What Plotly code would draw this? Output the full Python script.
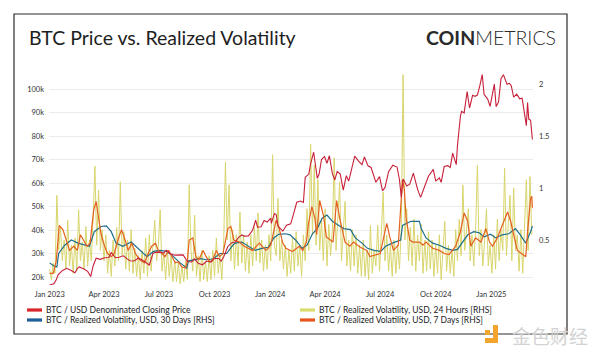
import plotly.graph_objects as go
import pandas as pd

# ---------------- data ----------------
price_dates = [
    "2023-01-01", "2023-01-08", "2023-01-12", "2023-01-15", "2023-01-22", "2023-01-29", "2023-02-05",
    "2023-02-12", "2023-02-16", "2023-02-19", "2023-02-26", "2023-03-05", "2023-03-10", "2023-03-14",
    "2023-03-19", "2023-03-26", "2023-04-02", "2023-04-09", "2023-04-13", "2023-04-20", "2023-04-26",
    "2023-05-03", "2023-05-10", "2023-05-14", "2023-05-21", "2023-05-28", "2023-06-04", "2023-06-11",
    "2023-06-15", "2023-06-21", "2023-06-25", "2023-07-02", "2023-07-09", "2023-07-13", "2023-07-20",
    "2023-07-27", "2023-08-03", "2023-08-10", "2023-08-17", "2023-08-24", "2023-08-29", "2023-09-04",
    "2023-09-11", "2023-09-18", "2023-09-25", "2023-10-01", "2023-10-08", "2023-10-12", "2023-10-16",
    "2023-10-23", "2023-10-29", "2023-11-05", "2023-11-09", "2023-11-15", "2023-11-19", "2023-11-26",
    "2023-12-03", "2023-12-08", "2023-12-11", "2023-12-17", "2023-12-22", "2023-12-27", "2024-01-02",
    "2024-01-03", "2024-01-08", "2024-01-11", "2024-01-14", "2024-01-22", "2024-01-28", "2024-02-04",
    "2024-02-09", "2024-02-14", "2024-02-20", "2024-02-25", "2024-02-28", "2024-03-05", "2024-03-08",
    "2024-03-13", "2024-03-19", "2024-03-22", "2024-03-26", "2024-03-31", "2024-04-04", "2024-04-08",
    "2024-04-13", "2024-04-17", "2024-04-21", "2024-04-26", "2024-05-01", "2024-05-06", "2024-05-10",
    "2024-05-15", "2024-05-20", "2024-05-26", "2024-06-01", "2024-06-05", "2024-06-11", "2024-06-16",
    "2024-06-24", "2024-06-30", "2024-07-05", "2024-07-09", "2024-07-15", "2024-07-22", "2024-07-29",
    "2024-08-02", "2024-08-05", "2024-08-08", "2024-08-14", "2024-08-19", "2024-08-25", "2024-09-01",
    "2024-09-06", "2024-09-12", "2024-09-19", "2024-09-27", "2024-10-01", "2024-10-07", "2024-10-10",
    "2024-10-15", "2024-10-21", "2024-10-25", "2024-10-29", "2024-11-04", "2024-11-06", "2024-11-11",
    "2024-11-13", "2024-11-17", "2024-11-22", "2024-11-26", "2024-12-01", "2024-12-05", "2024-12-09",
    "2024-12-13", "2024-12-17", "2024-12-20", "2024-12-26", "2024-12-30", "2025-01-06", "2025-01-09",
    "2025-01-13", "2025-01-17", "2025-01-21", "2025-01-27", "2025-01-31", "2025-02-03", "2025-02-07",
    "2025-02-12", "2025-02-17", "2025-02-21", "2025-02-25", "2025-02-28", "2025-03-02", "2025-03-04",
    "2025-03-07", "2025-03-10",
]
price_k = [
    16.6, 17.1, 18.8, 20.9, 22.7, 23.7, 22.9,
    21.8, 23.6, 24.3, 23.5, 22.4, 20.2, 24.7,
    28.0, 27.5, 28.2, 28.3, 30.4, 28.2, 28.4,
    29.0, 27.6, 26.9, 26.8, 28.1, 27.1, 25.9,
    25.1, 30.0, 30.5, 30.6, 30.2, 31.4, 29.9,
    29.3, 29.2, 29.4, 26.6, 26.4, 27.7, 25.8,
    25.2, 26.8, 26.3, 27.9, 27.9, 26.8, 28.5,
    33.0, 34.5, 35.0, 36.7, 37.9, 37.4, 37.5,
    39.9, 44.2, 41.2, 41.4, 44.0, 43.4, 45.0,
    42.8, 47.0, 46.6, 41.7, 39.5, 42.0, 42.6,
    47.1, 51.8, 52.3, 51.7, 62.4, 63.8, 68.3,
    73.1, 62.0, 63.8, 70.0, 71.3, 68.4, 71.6,
    64.0, 61.3, 64.9, 63.8, 57.0, 63.1, 60.8,
    66.2, 71.4, 69.4, 67.8, 71.1, 67.3, 66.6,
    60.3, 62.7, 56.7, 58.0, 64.8, 67.6, 66.8,
    61.4, 54.0, 61.7, 58.7, 59.5, 64.2, 57.3,
    53.9, 58.1, 62.9, 65.8, 60.8, 62.2, 60.3,
    67.0, 67.4, 66.6, 72.7, 67.8, 75.9, 88.7,
    90.5, 89.8, 98.9, 91.9, 97.3, 96.9, 97.4,
    101.4, 106.1, 97.7, 95.7, 92.6, 102.1, 92.5,
    94.5, 104.4, 106.1, 102.0, 102.4, 101.4, 96.5,
    97.8, 95.8, 96.1, 88.7, 84.4, 94.2, 87.2,
    86.7, 78.5,
]

vol30_dates = [
    "2023-01-01", "2023-01-08", "2023-01-13", "2023-01-16", "2023-01-26", "2023-02-06", "2023-02-17",
    "2023-02-28", "2023-03-08", "2023-03-16", "2023-03-27", "2023-04-05", "2023-04-13", "2023-04-21",
    "2023-05-02", "2023-05-16", "2023-05-27", "2023-06-07", "2023-06-11", "2023-06-22", "2023-07-03",
    "2023-07-14", "2023-07-25", "2023-08-05", "2023-08-16", "2023-08-19", "2023-08-27", "2023-09-07",
    "2023-09-18", "2023-09-29", "2023-10-10", "2023-10-21", "2023-10-30", "2023-11-04", "2023-11-15",
    "2023-11-26", "2023-12-07", "2023-12-18", "2023-12-29", "2024-01-07", "2024-01-15", "2024-01-26",
    "2024-02-03", "2024-02-12", "2024-02-23", "2024-03-02", "2024-03-11", "2024-03-19", "2024-03-27",
    "2024-04-04", "2024-04-13", "2024-04-21", "2024-05-02", "2024-05-13", "2024-05-21", "2024-06-01",
    "2024-06-10", "2024-06-21", "2024-07-02", "2024-07-10", "2024-07-21", "2024-08-04", "2024-08-07",
    "2024-08-21", "2024-09-04", "2024-09-07", "2024-09-15", "2024-09-26", "2024-10-07", "2024-10-18",
    "2024-10-29", "2024-11-06", "2024-11-14", "2024-11-23", "2024-12-03", "2024-12-12", "2024-12-20",
    "2024-12-31", "2025-01-08", "2025-01-19", "2025-01-30", "2025-02-10", "2025-02-18", "2025-02-27",
    "2025-03-07", "2025-03-10",
]
vol30 = [
    0.28, 0.25, 0.24, 0.37, 0.45, 0.50, 0.47,
    0.45, 0.44, 0.58, 0.63, 0.635, 0.58, 0.47,
    0.44, 0.48, 0.42, 0.36, 0.34, 0.39, 0.40,
    0.39, 0.34, 0.28, 0.23, 0.30, 0.31, 0.32,
    0.31, 0.32, 0.37, 0.37, 0.44, 0.47, 0.48,
    0.44, 0.40, 0.42, 0.43, 0.52, 0.555, 0.56,
    0.55, 0.50, 0.42, 0.45, 0.56, 0.61, 0.71,
    0.74, 0.68, 0.65, 0.61, 0.60, 0.52, 0.47,
    0.42, 0.40, 0.39, 0.44, 0.47, 0.50, 0.64,
    0.68, 0.68, 0.61, 0.52, 0.47, 0.45, 0.42,
    0.40, 0.41, 0.48, 0.55, 0.58, 0.57, 0.53,
    0.555, 0.52, 0.55, 0.56, 0.61, 0.55, 0.47,
    0.58, 0.635,
]

vol7_dates = [
    "2023-01-01", "2023-01-07", "2023-01-12", "2023-01-17", "2023-01-23", "2023-01-28", "2023-02-03",
    "2023-02-10", "2023-02-16", "2023-02-21", "2023-02-26", "2023-03-04", "2023-03-09", "2023-03-15",
    "2023-03-19", "2023-03-23", "2023-03-27", "2023-04-02", "2023-04-07", "2023-04-13", "2023-04-18",
    "2023-04-24", "2023-04-30", "2023-05-06", "2023-05-11", "2023-05-17", "2023-05-23", "2023-05-30",
    "2023-06-07", "2023-06-13", "2023-06-19", "2023-06-25", "2023-06-30", "2023-07-06", "2023-07-11",
    "2023-07-17", "2023-07-22", "2023-07-28", "2023-08-02", "2023-08-08", "2023-08-14", "2023-08-17",
    "2023-08-20", "2023-08-26", "2023-08-31", "2023-09-05", "2023-09-12", "2023-09-17", "2023-09-23",
    "2023-09-28", "2023-10-04", "2023-10-09", "2023-10-15", "2023-10-19", "2023-10-23", "2023-10-28",
    "2023-11-02", "2023-11-11", "2023-11-19", "2023-12-03", "2023-12-14", "2023-12-25", "2024-01-02",
    "2024-01-11", "2024-01-16", "2024-01-22", "2024-01-27", "2024-02-07", "2024-02-18", "2024-02-24",
    "2024-03-01", "2024-03-04", "2024-03-10", "2024-03-15", "2024-03-18", "2024-03-23", "2024-03-29",
    "2024-04-03", "2024-04-14", "2024-04-20", "2024-04-25", "2024-05-04", "2024-05-12", "2024-05-18",
    "2024-05-29", "2024-06-09", "2024-06-14", "2024-07-01", "2024-07-06", "2024-07-12", "2024-07-17",
    "2024-07-23", "2024-07-31", "2024-08-07", "2024-08-10", "2024-08-13", "2024-08-19", "2024-08-24",
    "2024-09-04", "2024-09-10", "2024-09-15", "2024-09-26", "2024-10-07", "2024-10-15", "2024-10-23",
    "2024-11-03", "2024-11-11", "2024-11-17", "2024-11-23", "2024-11-28", "2024-12-06", "2024-12-15",
    "2024-12-23", "2024-12-29", "2025-01-03", "2025-01-11", "2025-01-19", "2025-01-28", "2025-02-02",
    "2025-02-08", "2025-02-13", "2025-02-22", "2025-02-27", "2025-03-02", "2025-03-07", "2025-03-09",
    "2025-03-10",
]
vol7 = [
    0.18, 0.18, 0.30, 0.64, 0.60, 0.50, 0.40,
    0.44, 0.40, 0.55, 0.50, 0.44, 0.47, 0.79,
    0.87, 0.72, 0.56, 0.44, 0.37, 0.34, 0.37,
    0.50, 0.60, 0.50, 0.40, 0.47, 0.37, 0.31,
    0.28, 0.37, 0.44, 0.47, 0.40, 0.37, 0.34,
    0.40, 0.34, 0.28, 0.29, 0.24, 0.23, 0.30,
    0.50, 0.52, 0.34, 0.31, 0.40, 0.34, 0.29,
    0.31, 0.40, 0.34, 0.37, 0.50, 0.61, 0.63,
    0.50, 0.48, 0.44, 0.40, 0.47, 0.40, 0.45,
    0.69, 0.61, 0.47, 0.42, 0.39, 0.44, 0.40,
    0.48, 0.64, 0.82, 0.71, 0.55, 0.88, 0.74,
    0.53, 0.48, 0.88, 0.71, 0.48, 0.44, 0.48,
    0.43, 0.40, 0.34, 0.37, 0.50, 0.66, 0.53,
    0.40, 0.45, 1.08, 0.99, 0.71, 0.50, 0.48,
    0.48, 0.45, 0.48, 0.42, 0.40, 0.37, 0.36,
    0.44, 0.58, 0.76, 0.68, 0.44, 0.52, 0.48,
    0.61, 0.48, 0.44, 0.52, 0.64, 0.77, 0.68,
    0.52, 0.40, 0.36, 0.34, 0.58, 0.90, 0.92,
    0.81,
]

# 24-hour realized volatility, one reading every 3 days from 2023-01-01
vol24_start = "2023-01-01"
vol24 = [
    0.22, 0.12, 0.28, 0.18, 0.93, 0.40, 0.62, 0.30, 0.50, 0.22,
    0.69, 0.25, 0.45, 0.18, 0.52, 0.20, 0.79, 0.30, 0.48, 0.22,
    0.63, 0.25, 0.50, 0.30, 0.70, 1.21, 0.45, 0.98, 0.40, 0.60,
    0.30, 0.55, 0.18, 0.40, 0.15, 0.50, 0.25, 0.62, 0.30, 1.06,
    0.35, 0.58, 0.22, 0.50, 0.20, 0.60, 0.18, 0.42, 0.15, 0.35,
    0.12, 0.40, 0.18, 0.52, 0.15, 0.55, 0.20, 0.45, 0.69, 0.30,
    0.45, 0.79, 0.20, 0.38, 0.12, 0.40, 0.15, 0.35, 0.10, 0.30,
    0.10, 0.28, 0.08, 0.25, 0.10, 0.30, 0.12, 1.03, 0.40, 0.20,
    0.74, 0.15, 0.35, 0.10, 0.40, 0.12, 0.30, 0.10, 0.35, 0.12,
    0.40, 0.15, 0.52, 0.18, 0.35, 0.12, 0.45, 1.25, 0.50, 1.03,
    0.30, 0.60, 0.22, 0.55, 0.25, 0.77, 0.28, 0.55, 0.20, 0.48,
    0.18, 0.55, 0.25, 0.62, 0.30, 0.76, 0.28, 0.50, 0.20, 0.45,
    0.22, 0.55, 0.30, 1.32, 0.45, 0.35, 0.90, 0.30, 0.50, 0.22,
    0.45, 0.15, 0.40, 0.18, 0.52, 0.20, 0.58, 0.25, 0.45, 0.15,
    0.55, 0.30, 0.80, 0.40, 1.42, 0.55, 1.22, 0.45, 1.08, 0.40,
    0.70, 0.30, 0.80, 0.25, 0.65, 0.35, 0.60, 1.29, 0.40, 0.70,
    1.06, 0.30, 0.60, 0.87, 0.25, 0.50, 0.20, 0.60, 0.25, 0.55,
    0.18, 0.45, 0.15, 0.50, 0.15, 0.40, 0.12, 0.64, 0.18, 0.40,
    0.25, 0.64, 0.20, 0.55, 0.96, 0.30, 0.55, 0.20, 0.45, 0.15,
    0.50, 0.18, 0.45, 0.22, 0.60, 2.09, 0.50, 0.80, 0.30, 0.62,
    0.25, 0.70, 0.20, 0.55, 0.30, 0.65, 0.18, 0.50, 0.20, 0.58,
    0.22, 0.50, 0.15, 0.45, 0.18, 0.55, 0.12, 0.40, 0.68, 0.20,
    0.45, 0.18, 0.40, 0.15, 0.60, 0.30, 0.70, 0.35, 1.03, 0.40,
    0.60, 0.80, 0.30, 0.55, 0.25, 0.60, 1.22, 0.35, 0.60, 0.25,
    0.50, 0.80, 0.25, 0.45, 0.18, 0.55, 0.22, 0.70, 0.30, 0.60,
    0.40, 1.19, 0.35, 0.65, 0.93, 0.30, 1.00, 0.40, 0.55, 0.20,
    0.60, 0.18, 0.60, 1.08, 0.40, 1.11, 0.55,
]
vol24_dates = pd.date_range(vol24_start, periods=len(vol24), freq="3D")

price_ticks = [20, 30, 40, 50, 60, 70, 80, 90, 100]
price_tick_text = ["20k", "30k", "40k", "50k", "60k", "70k", "80k", "90k", "100k"]
vol_ticks = [0.5, 1, 1.5, 2]
vol_tick_text = ["0.5", "1", "1.5", "2"]

series_names = [
    "BTC / USD Denominated Closing Price",
    "BTC / Realized Volatility, USD, 24 Hours [RHS]",
    "BTC / Realized Volatility, USD, 30 Days [RHS]",
    "BTC / Realized Volatility, USD, 7 Days [RHS]",
]
C_PRICE = "#c8203a"
C_V24 = "#d8d56c"
C_V30 = "#1f6e8a"
C_V7 = "#e4601e"
swatch_colors = ["#d8262c", "#d9dc6c", "#1f5f99", "#e8541c"]

# ---------------- layout geometry ----------------
# positions below are screen pixels of the 600x356 window; the html body adds an 8px margin
OFF = 8
W, H = 600 - OFF, 356 - OFF
L, R, T, B = 49, 533, 68, 285   # plot area in screen pixels


def px(x):
    return (x - L) / (R - L)


def py(y):
    return (B - y) / (B - T)


FONT = "Lato, 'Open Sans', sans-serif"

fig = go.Figure()
fig.add_trace(go.Scatter(x=vol24_dates, y=vol24, mode="lines", name=series_names[1],
                         line=dict(color=C_V24, width=1), yaxis="y", showlegend=False))
fig.add_trace(go.Scatter(x=pd.to_datetime(vol30_dates), y=vol30, mode="lines", name=series_names[2],
                         line=dict(color=C_V30, width=1.2), yaxis="y", showlegend=False))
fig.add_trace(go.Scatter(x=pd.to_datetime(vol7_dates), y=vol7, mode="lines", name=series_names[3],
                         line=dict(color=C_V7, width=1.2), yaxis="y", showlegend=False))
fig.add_trace(go.Scatter(x=pd.to_datetime(price_dates), y=price_k, mode="lines", name=series_names[0],
                         line=dict(color=C_PRICE, width=1.1), yaxis="y2", showlegend=False))

tick_font = dict(family=FONT, size=7.5, color="#333333")

fig.update_layout(
    width=W, height=H,
    margin=dict(l=L - OFF, r=W - (R - OFF), t=T - OFF, b=H - (B - OFF), pad=0),
    paper_bgcolor="white", plot_bgcolor="white",
    font=dict(family=FONT, color="#222222"),
    xaxis=dict(type="date", range=["2022-12-31", "2025-03-11"],
               tickvals=pd.date_range("2023-01-01", "2025-01-01", freq="3MS"),
               tickformat="%b %Y", showgrid=False, zeroline=False, showline=False,
               ticks="", tickfont=tick_font, ticklabelstandoff=3, automargin=False),
    yaxis=dict(side="right", range=[0.0673, 2.1538], tickvals=vol_ticks, ticktext=vol_tick_text,
               showgrid=False, zeroline=False, showline=False, ticks="", tickfont=tick_font,
               ticklabelstandoff=5, automargin=False),
    yaxis2=dict(side="left", overlaying="y", range=[16.596, 108.936], tickvals=price_ticks,
                ticktext=price_tick_text, showgrid=True, gridcolor="#ebebeb", gridwidth=1,
                zeroline=False, showline=False, ticks="", tickfont=tick_font,
                ticklabelstandoff=4, automargin=False),
    showlegend=False,
)

shapes = []
annotations = []

# outer frame
shapes.append(dict(type="rect", xref="paper", yref="paper", x0=px(14), x1=px(567), y0=py(334), y1=py(14),
                   line=dict(color="#2b2b2b", width=1.2), fillcolor="rgba(0,0,0,0)", layer="below"))

# title and logo
annotations.append(dict(text="BTC Price vs. Realized Volatility", xref="paper", yref="paper",
                        x=px(27), y=py(37), xanchor="left", yanchor="middle", showarrow=False,
                        font=dict(family=FONT, size=19.5, color="#1e1e1e")))
annotations.append(dict(text="<b>COIN</b><span style='font-weight:300'>METRICS</span>",
                        xref="paper", yref="paper", x=px(558), y=py(37),
                        xanchor="right", yanchor="middle", showarrow=False,
                        font=dict(family=FONT, size=19.5, color="#2a2a2a")))

# legend (two columns)
legend_pos = [(27, 310), (300, 310), (27, 320), (300, 320)]
for name, col, (lx, ly) in zip(series_names, swatch_colors, legend_pos):
    shapes.append(dict(type="rect", xref="paper", yref="paper", x0=px(lx), x1=px(lx + 15),
                       y0=py(ly + 1.6), y1=py(ly - 1.6), line=dict(width=0), fillcolor=col))
    annotations.append(dict(text=name, xref="paper", yref="paper", x=px(lx + 17), y=py(ly),
                            xanchor="left", yanchor="middle", showarrow=False,
                            font=dict(family=FONT, size=8.5, color="#222222")))

# watermark
wm = "#f2a52a"
shapes.append(dict(type="rect", xref="paper", yref="paper", x0=px(493), x1=px(498), y0=py(343), y1=py(325),
                   line=dict(width=0), fillcolor=wm))
shapes.append(dict(type="rect", xref="paper", yref="paper", x0=px(485), x1=px(498), y0=py(343), y1=py(338),
                   line=dict(width=0), fillcolor=wm))
shapes.append(dict(type="rect", xref="paper", yref="paper", x0=px(485), x1=px(490), y0=py(335), y1=py(330),
                   line=dict(width=0), fillcolor=wm))
annotations.append(dict(text="金色财经", xref="paper", yref="paper", x=px(510), y=py(335),
                        xanchor="left", yanchor="middle", showarrow=False,
                        font=dict(family="Noto Sans CJK SC", size=19, color="#d2d2d2")))

fig.update_layout(shapes=shapes, annotations=annotations)

fig.write_html("out.html")
